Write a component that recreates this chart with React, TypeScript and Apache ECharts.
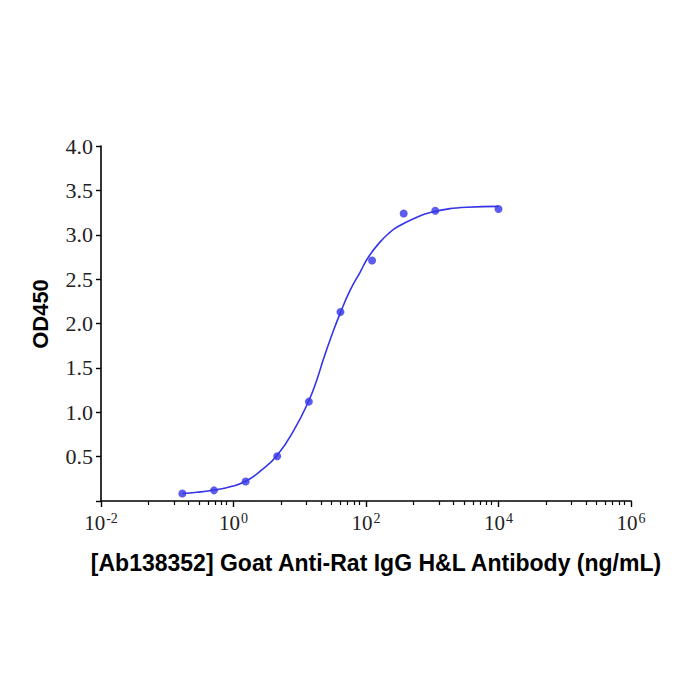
import React, { useEffect, useRef } from 'react';
import * as echarts from 'echarts';

// measured dilution points (ng/mL) and OD450 readings
const concentrations = [0.169, 0.508, 1.524, 4.572, 13.72, 41.15, 123.5, 370.4, 1111, 10000];
const od450 = [0.085, 0.12, 0.219, 0.504, 1.12, 2.13, 2.71, 3.24, 3.27, 3.29];

// fitted curve
const curveX = [0.169, 0.28, 0.508, 0.891, 1.52, 2.68, 4.57, 8.05, 13.7, 18.2, 22.8, 30.5, 41.0, 57.7, 81.7, 109, 164, 232, 292, 521, 931, 3334, 10000];
const curveY = [0.085, 0.098, 0.124, 0.16, 0.222, 0.35, 0.515, 0.79, 1.13, 1.37, 1.6, 1.87, 2.12, 2.375, 2.58, 2.75, 2.92, 3.03, 3.085, 3.18, 3.25, 3.31, 3.32];

// axis ticks
const majorTicks = [0.01, 1, 100, 10000, 1000000];
const minorMultipliers = [0.052, 0.126, 0.21, 0.3, 0.41, 0.525, 0.66, 0.79];
const minorTicks = majorTicks.slice(0, -1).flatMap((m) => minorMultipliers.map((f) => +(m * 100 * f).toPrecision(4)));

const BLUE = '#3434e8';
const SERIF = '"Liberation Serif", "Times New Roman", serif';
const SANS = '"Liberation Sans", Arial, sans-serif';

export default function App() {
  const chartRef = useRef<HTMLDivElement>(null);

  useEffect(() => {
    if (!chartRef.current) return;
    const chart = echarts.init(chartRef.current, null, { renderer: 'svg' });

    const option = {
      animation: false,
      backgroundColor: '#fff',
      grid: { left: 101, right: 69, top: 146, bottom: 199 },
      xAxis: [
        {
          type: 'log',
          logBase: 10,
          min: 0.01,
          max: 1000000,
          position: 'bottom',
          axisLine: { lineStyle: { color: '#000', width: 1.6 } },
          axisTick: { customValues: majorTicks, length: 6, lineStyle: { color: '#000', width: 1.4 } },
          axisLabel: {
            customValues: majorTicks,
            margin: 10,
            formatter: (v: number) => `{b|10}{s|${Math.round(Math.log10(v))}}`,
            rich: {
              b: { fontFamily: SERIF, fontSize: 21, color: '#222' },
              s: { fontFamily: SERIF, fontSize: 14, color: '#222', padding: [0, 0, 10, 1] },
            },
          },
          splitLine: { show: false },
        },
        {
          type: 'log',
          logBase: 10,
          min: 0.01,
          max: 1000000,
          position: 'bottom',
          axisLine: { show: false },
          axisTick: { customValues: minorTicks, length: 4, lineStyle: { color: '#000', width: 1.2 } },
          axisLabel: { show: false },
          splitLine: { show: false },
        },
      ],
      yAxis: {
        type: 'value',
        min: 0,
        max: 4,
        interval: 0.5,
        axisLine: { show: true, lineStyle: { color: '#000', width: 1.6 } },
        axisTick: { show: true, length: 5, lineStyle: { color: '#000', width: 1.4 } },
        axisLabel: {
          margin: 8,
          fontFamily: SERIF,
          fontSize: 22,
          color: '#222',
          formatter: (v: number) => (v === 0 ? '' : v.toFixed(1)),
        },
        splitLine: { show: false },
      },
      graphic: [
        {
          type: 'text',
          x: 376,
          y: 563,
          style: {
            text: '[Ab138352] Goat Anti-Rat IgG H&L Antibody (ng/mL)',
            font: `bold 23px ${SANS}`,
            fill: '#000',
            align: 'center',
            verticalAlign: 'middle',
          },
        },
        {
          type: 'text',
          x: 40,
          y: 314,
          rotation: Math.PI / 2,
          style: {
            text: 'OD450',
            font: `bold 22px ${SANS}`,
            fill: '#000',
            align: 'center',
            verticalAlign: 'middle',
          },
        },
      ],
      series: [
        {
          name: 'fit',
          type: 'line',
          data: curveX.map((x, i) => [x, curveY[i]]),
          smooth: 0.5,
          showSymbol: false,
          lineStyle: { color: BLUE, width: 1.6 },
          z: 2,
        },
        {
          name: 'OD450',
          type: 'scatter',
          data: concentrations.map((x, i) => [x, od450[i]]),
          symbol: 'circle',
          symbolSize: 8,
          itemStyle: { color: BLUE },
          z: 3,
        },
      ],
    };

    chart.setOption(option);
    return () => chart.dispose();
  }, []);

  return (
    <div
      ref={chartRef}
      style={{ position: 'fixed', left: 0, top: 0, width: 700, height: 700, background: '#fff' }}
    />
  );
}
